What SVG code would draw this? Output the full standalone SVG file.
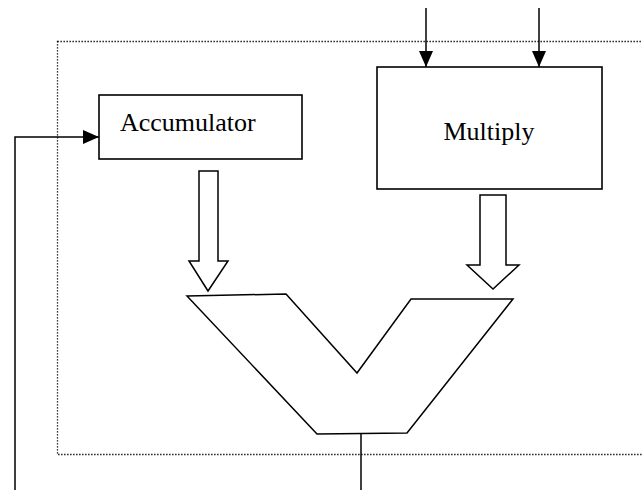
<svg xmlns="http://www.w3.org/2000/svg" width="642" height="490" viewBox="0 0 642 490">
  <style>
    .box { fill: #fff; stroke: #000; stroke-width: 1.6; }
    .wire { fill: none; stroke: #000; stroke-width: 1.5; }
    .bus { fill: #fff; stroke: #000; stroke-width: 1.5; stroke-linejoin: miter; }
    .frame { fill: none; stroke: #000; stroke-width: 1.3; stroke-dasharray: 1.3 1.7; }
    .label { font-family: "Liberation Serif", "Times New Roman", serif; font-size: 26px; fill: #000; }
  </style>
  <defs>
    <marker id="head" viewBox="0 0 16 14" refX="16" refY="7" markerWidth="16" markerHeight="14" markerUnits="userSpaceOnUse" orient="auto">
      <path d="M0,0 L16,7 L0,14 Z" fill="#000"/>
    </marker>
  </defs>

  <rect id="datapath-frame" class="frame" x="57.5" y="41.5" width="600" height="413"/>

  <g id="accumulator">
    <rect class="box" x="99" y="95" width="203" height="64"/>
    <text class="label" x="120" y="131">Accumulator</text>
  </g>

  <g id="multiply">
    <rect class="box" x="377" y="67" width="225" height="122"/>
    <text class="label" x="489" y="140" text-anchor="middle">Multiply</text>
  </g>

  <g id="adder">
    <path class="bus" d="M187,296 L286,294 L357,373 L411,299 L513,299 L407,433 L317,434 Z"/>
  </g>

  <g id="connectors">
    <!-- operand inputs into the multiplier -->
    <line class="wire" x1="426" y1="8" x2="426" y2="67" marker-end="url(#head)"/>
    <line class="wire" x1="539" y1="8" x2="539" y2="67" marker-end="url(#head)"/>
    <!-- feedback into the accumulator -->
    <polyline class="wire" points="15,490 15,137 99,137" marker-end="url(#head)"/>
    <!-- adder output -->
    <line class="wire" x1="361" y1="433" x2="361" y2="490"/>
    <!-- bus arrows into the adder -->
    <path class="bus" d="M199,171 L218,171 L218,261 L228,261 L208,291 L189,261 L199,261 Z"/>
    <path class="bus" d="M480,195 L506,195 L506,265 L519,265 L493,289 L467,265 L480,265 Z"/>
  </g>
</svg>
